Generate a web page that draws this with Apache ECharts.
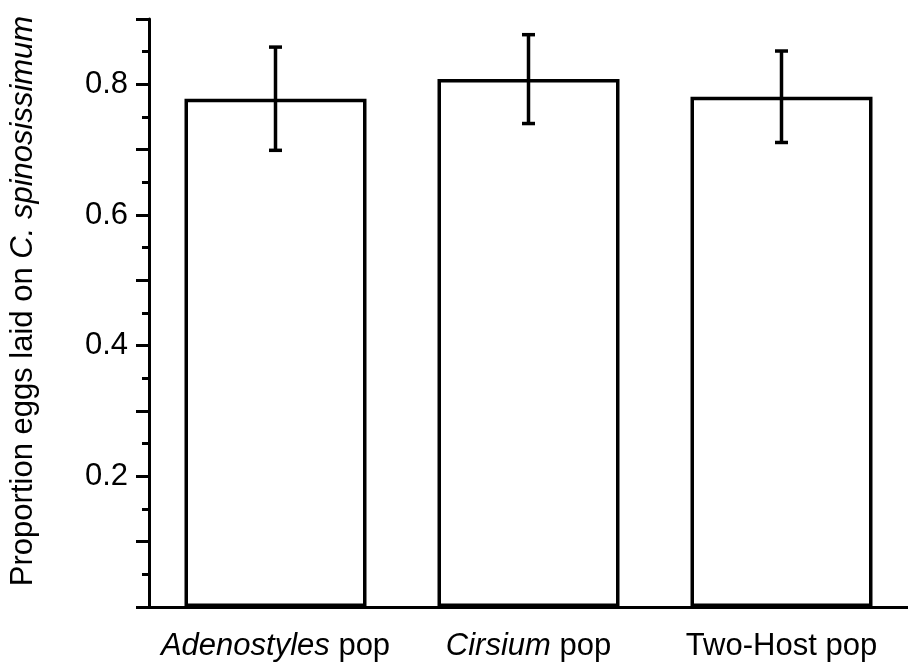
<!DOCTYPE html>
<html>
<head>
<meta charset="utf-8">
<script src="https://cdn.jsdelivr.net/npm/echarts@6/dist/echarts.min.js"></script>
<style>
  html, body { margin: 0; padding: 0; background: #fff; }
  #chart { width: 908px; height: 666px; }
</style>
</head>
<body>
<div id="chart"></div>
<script>
// Oviposition preference of three populations
const categories = ['Adenostyles', 'Cirsium', 'Two-Host'];
const italicPart = [true, true, false];
const proportion = [0.778, 0.808, 0.781];
const errorSize = [0.079, 0.068, 0.070];
const yTickLabels = ['0.2', '0.4', '0.6', '0.8'];

const FONT = '"Liberation Sans", Arial, sans-serif';
const FS = 31;
const chart = echarts.init(document.getElementById('chart'), null, { renderer: 'canvas' });

const errData = categories.map((c, i) => [i, proportion[i] - errorSize[i], proportion[i] + errorSize[i]]);

chart.setOption({
  animation: false,
  backgroundColor: '#ffffff',
  grid: { left: 133, top: 19, bottom: 59, width: 798 },
  xAxis: {
    type: 'category',
    data: categories,
    axisLine: { lineStyle: { color: '#000', width: 3 } },
    axisTick: { alignWithLabel: true, length: 7, lineStyle: { color: '#000', width: 3 } },
    axisLabel: {
      margin: 24,
      formatter: (v, idx) => italicPart[idx] ? '{i|' + v + '}{n| pop}' : '{n|' + v + ' pop}',
      rich: {
        i: { fontFamily: FONT, fontSize: FS, fontStyle: 'italic', color: '#000' },
        n: { fontFamily: FONT, fontSize: FS, color: '#000' }
      }
    }
  },
  yAxis: {
    type: 'value',
    min: 0,
    max: 0.9,
    interval: 0.1,
    name: '{n|Proportion eggs laid on }{i|C. spinosissimum}',
    nameLocation: 'middle',
    nameGap: 110,
    nameTextStyle: {
      padding: [0, 0, 0, 24],
      rich: {
        i: { fontFamily: FONT, fontSize: FS, fontStyle: 'italic', color: '#000' },
        n: { fontFamily: FONT, fontSize: FS, color: '#000' }
      }
    },
    axisLine: { show: true, lineStyle: { color: '#000', width: 3 } },
    axisTick: { show: true, length: 13, lineStyle: { color: '#000', width: 3 } },
    minorTick: { show: true, splitNumber: 2, length: 7, lineStyle: { color: '#000', width: 3 } },
    splitLine: { show: false },
    axisLabel: {
      margin: 21,
      fontFamily: FONT,
      fontSize: FS,
      color: '#000',
      formatter: v => {
        const s = v.toFixed(1);
        return yTickLabels.indexOf(s) >= 0 ? s : '';
      }
    }
  },
  series: [
    {
      type: 'bar',
      data: proportion,
      barWidth: 182,
      itemStyle: { color: '#fff', borderColor: '#000', borderWidth: 3.5 }
    },
    {
      type: 'custom',
      data: errData,
      z: 5,
      renderItem: (params, api) => {
        const x = api.value(0);
        const lo = api.coord([x, api.value(1)]);
        const hi = api.coord([x, api.value(2)]);
        const half = 6.5;
        const style = { stroke: '#000', lineWidth: 3.5, fill: null };
        return {
          type: 'group',
          children: [
            { type: 'line', shape: { x1: hi[0], y1: hi[1], x2: lo[0], y2: lo[1] }, style },
            { type: 'line', shape: { x1: hi[0] - half, y1: hi[1], x2: hi[0] + half, y2: hi[1] }, style },
            { type: 'line', shape: { x1: lo[0] - half, y1: lo[1], x2: lo[0] + half, y2: lo[1] }, style }
          ]
        };
      }
    }
  ]
});
</script>
</body>
</html>
